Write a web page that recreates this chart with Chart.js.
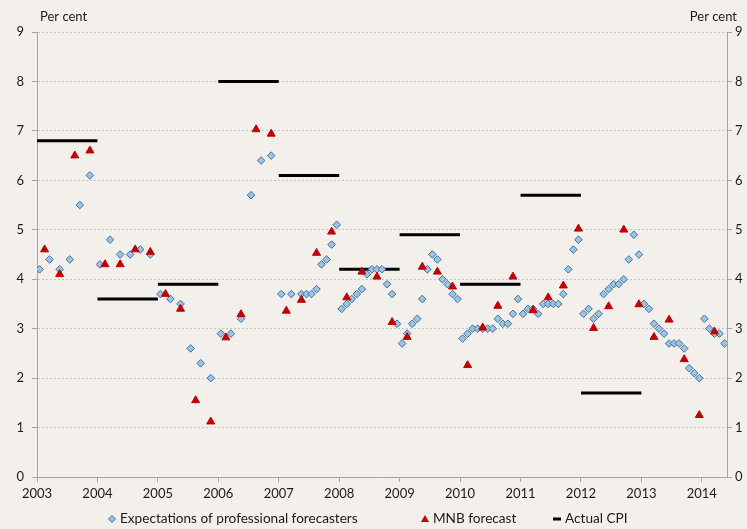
<!DOCTYPE html>
<html>
<head>
<meta charset="utf-8">
<script src="https://cdn.jsdelivr.net/npm/chart.js@4/dist/chart.umd.min.js"></script>
<style>
  html, body { margin: 0; padding: 0; background: #f3f0ec; }
  #wrap { width: 747px; height: 529px; position: relative; }
</style>
</head>
<body>
<div id="wrap"><canvas id="cpi-chart"></canvas></div>
<script>
// Expectations of professional forecasters (monthly survey, month -> value)
const expMonths = [
  '2003-01','2003-03','2003-05','2003-07','2003-09','2003-11',
  '2004-01','2004-03','2004-05','2004-07','2004-09','2004-11',
  '2005-01','2005-03','2005-05','2005-07','2005-09','2005-11',
  '2006-01','2006-03','2006-05','2006-07','2006-09','2006-11',
  '2007-01','2007-03','2007-05','2007-06','2007-07','2007-08','2007-09','2007-10','2007-11','2007-12',
  '2008-01','2008-02','2008-03','2008-04','2008-05','2008-06','2008-07','2008-08','2008-09','2008-10','2008-11','2008-12',
  '2009-01','2009-02','2009-03','2009-04','2009-05','2009-06','2009-07','2009-08','2009-09','2009-10','2009-11','2009-12',
  '2010-01','2010-02','2010-03','2010-04','2010-05','2010-06','2010-07','2010-08','2010-09','2010-10','2010-11','2010-12',
  '2011-01','2011-02','2011-03','2011-04','2011-05','2011-06','2011-07','2011-08','2011-09','2011-10','2011-11','2011-12',
  '2012-01','2012-02','2012-03','2012-04','2012-05','2012-06','2012-07','2012-08','2012-09','2012-10','2012-11','2012-12',
  '2013-01','2013-02','2013-03','2013-04','2013-05','2013-06','2013-07','2013-08','2013-09','2013-10','2013-11','2013-12',
  '2014-01','2014-02','2014-03','2014-04','2014-05'
];
const expValues = [
  4.2, 4.4, 4.2, 4.4, 5.5, 6.1,
  4.3, 4.8, 4.5, 4.5, 4.6, 4.5,
  3.7, 3.6, 3.5, 2.6, 2.3, 2.0,
  2.9, 2.9, 3.2, 5.7, 6.4, 6.5,
  3.7, 3.7, 3.7, 3.7, 3.7, 3.8, 4.3, 4.4, 4.7, 5.1,
  3.4, 3.5, 3.6, 3.7, 3.8, 4.1, 4.2, 4.2, 4.2, 3.9, 3.7, 3.1,
  2.7, 2.9, 3.1, 3.2, 3.6, 4.2, 4.5, 4.4, 4.0, 3.9, 3.7, 3.6,
  2.8, 2.9, 3.0, 3.0, 3.0, 3.0, 3.0, 3.2, 3.1, 3.1, 3.3, 3.6,
  3.3, 3.4, 3.4, 3.3, 3.5, 3.5, 3.5, 3.5, 3.7, 4.2, 4.6, 4.8,
  3.3, 3.4, 3.2, 3.3, 3.7, 3.8, 3.9, 3.9, 4.0, 4.4, 4.9, 4.5,
  3.5, 3.4, 3.1, 3.0, 2.9, 2.7, 2.7, 2.7, 2.6, 2.2, 2.1, 2.0,
  3.2, 3.0, 2.9, 2.9, 2.7
];

// MNB forecast (quarterly Inflation Report)
const mnbMonths = [
  '2003-02','2003-05','2003-08','2003-11',
  '2004-02','2004-05','2004-08','2004-11',
  '2005-02','2005-05','2005-08','2005-11',
  '2006-02','2006-05','2006-08','2006-11',
  '2007-02','2007-05','2007-08','2007-11',
  '2008-02','2008-05','2008-08','2008-11',
  '2009-02','2009-05','2009-08','2009-11',
  '2010-02','2010-05','2010-08','2010-11',
  '2011-03','2011-06','2011-09','2011-12',
  '2012-03','2012-06','2012-09','2012-12',
  '2013-03','2013-06','2013-09','2013-12',
  '2014-03'
];
const mnbValues = [
  4.6, 4.1, 6.5, 6.6,
  4.3, 4.3, 4.6, 4.55,
  3.7, 3.4, 1.55, 1.12,
  2.82, 3.29, 7.03, 6.94,
  3.36, 3.58, 4.53, 4.96,
  3.63, 4.15, 4.05, 3.13,
  2.83, 4.25, 4.15, 3.85,
  2.26, 3.02, 3.46, 4.05,
  3.37, 3.63, 3.87, 5.02,
  3.01, 3.45, 5.0, 3.49,
  2.83, 3.18, 2.38, 1.25,
  2.94
];

// Actual CPI, drawn across the year in which the forecasts were made
const cpiYears = [2003, 2004, 2005, 2006, 2007, 2008, 2009, 2010, 2011, 2012];
const cpiValues = [6.8, 3.6, 3.9, 8.0, 6.1, 4.2, 4.9, 3.9, 5.7, 1.7];

const yearLabels = ['2003','2004','2005','2006','2007','2008','2009','2010','2011','2012','2013','2014'];
const yTicks = [0, 1, 2, 3, 4, 5, 6, 7, 8, 9];

const START_YEAR = 2003;
const N_MONTHS = 137;

// month string -> position on the month axis (centre of the month slot)
function monthPos(s) {
  const parts = s.split('-');
  return (parseInt(parts[0]) - START_YEAR) * 12 + (parseInt(parts[1]) - 1) + 0.5;
}

const expData = expMonths.map((m, i) => ({ x: monthPos(m), y: expValues[i] }));
const mnbData = mnbMonths.map((m, i) => ({ x: monthPos(m), y: mnbValues[i] }));
const cpiData = [];
cpiYears.forEach((yr, i) => {
  const x0 = (yr - START_YEAR) * 12;
  cpiData.push({ x: x0, y: cpiValues[i] });
  cpiData.push({ x: x0 + 12, y: cpiValues[i] });
  cpiData.push({ x: x0 + 12, y: null });
});

const FONT = "Lato, 'Open Sans', sans-serif";
const AXIS_GREY = '#a6a6a6';
const TEXT = '#1a1a1a';

// "Per cent" labels above both axes
const unitLabels = {
  id: 'unitLabels',
  afterDraw(chart) {
    const ctx = chart.ctx;
    const area = chart.chartArea;
    ctx.save();
    ctx.font = '13px ' + FONT;
    ctx.fillStyle = TEXT;
    ctx.textBaseline = 'middle';
    ctx.textAlign = 'left';
    ctx.fillText('Per cent', area.left + 3, 17);
    ctx.textAlign = 'right';
    ctx.fillText('Per cent', area.right + 10, 17);
    ctx.restore();
  }
};

// legend at the bottom, spaced like the original
const bottomLegend = {
  id: 'bottomLegend',
  afterDraw(chart) {
    const ctx = chart.ctx;
    const ds = chart.data.datasets;
    const y = 519;
    const items = [
      { idx: 0, cx: 112 },
      { idx: 1, cx: 425 },
      { idx: 2, cx: 557 }
    ];
    ctx.save();
    ctx.font = '13.6px ' + FONT;
    ctx.textBaseline = 'middle';
    ctx.textAlign = 'left';
    items.forEach(it => {
      const d = ds[it.idx];
      ctx.fillStyle = d.backgroundColor;
      ctx.strokeStyle = d.borderColor;
      ctx.lineWidth = 1;
      if (d.pointStyle === 'rectRot') {
        ctx.beginPath();
        ctx.moveTo(it.cx, y - 3.5);
        ctx.lineTo(it.cx + 3.5, y);
        ctx.lineTo(it.cx, y + 3.5);
        ctx.lineTo(it.cx - 3.5, y);
        ctx.closePath();
        ctx.fill();
        ctx.stroke();
      } else if (d.pointStyle === 'triangle') {
        ctx.beginPath();
        ctx.moveTo(it.cx, y - 4);
        ctx.lineTo(it.cx + 4, y + 3);
        ctx.lineTo(it.cx - 4, y + 3);
        ctx.closePath();
        ctx.fill();
      } else {
        ctx.fillStyle = '#000';
        ctx.fillRect(it.cx - 4, y - 1.5, 8, 3);
      }
      ctx.fillStyle = TEXT;
      ctx.fillText(d.label, it.cx + 8, y);
    });
    ctx.restore();
  }
};

new Chart(document.getElementById('cpi-chart'), {
  type: 'scatter',
  data: {
    datasets: [{
      label: 'Expectations of professional forecasters',
      data: expData,
      pointStyle: 'rectRot',
      pointRadius: 3.8,
      pointHoverRadius: 3.8,
      backgroundColor: '#9cc3e5',
      borderColor: '#41719c',
      borderWidth: 1,
      order: 2
    }, {
      label: 'MNB forecast',
      data: mnbData,
      pointStyle: 'triangle',
      pointRadius: 4.6,
      pointHoverRadius: 4.6,
      backgroundColor: '#c00000',
      borderColor: '#c00000',
      borderWidth: 1,
      order: 1
    }, {
      label: 'Actual CPI',
      type: 'line',
      data: cpiData,
      showLine: true,
      spanGaps: false,
      pointRadius: 0,
      pointStyle: 'line',
      borderColor: '#000000',
      backgroundColor: '#000000',
      borderWidth: 3,
      order: 3
    }]
  },
  options: {
    responsive: true,
    maintainAspectRatio: false,
    animation: false,
    layout: { padding: { top: 32, left: 0, right: 0, bottom: 24 } },
    plugins: {
      tooltip: { enabled: false },
      legend: { display: false }
    },
    scales: {
      x: {
        type: 'linear',
        min: 0,
        max: N_MONTHS,
        afterBuildTicks: s => { s.ticks = yearLabels.map((_, i) => ({ value: i * 12 })); },
        afterFit: s => { s.height = 28; },
        ticks: {
          autoSkip: false,
          maxRotation: 0,
          color: TEXT,
          font: { family: FONT, size: 13 },
          padding: 4,
          callback: v => yearLabels[Math.round(v / 12)]
        },
        grid: { drawOnChartArea: false, tickLength: 5, tickColor: AXIS_GREY },
        border: { color: AXIS_GREY, width: 1 }
      },
      y: {
        position: 'left',
        min: 0,
        max: 9,
        afterBuildTicks: s => { s.ticks = yTicks.map(v => ({ value: v })); },
        afterFit: s => { s.width = 37; },
        ticks: {
          color: TEXT,
          font: { family: FONT, size: 13 },
          padding: 8
        },
        grid: { color: '#c4c4c4', lineWidth: 1, tickLength: 5, tickColor: AXIS_GREY },
        border: { color: AXIS_GREY, width: 1, dash: [2, 2] }
      },
      y2: {
        position: 'right',
        min: 0,
        max: 9,
        afterBuildTicks: s => { s.ticks = yTicks.map(v => ({ value: v })); },
        afterFit: s => { s.width = 20; },
        ticks: {
          color: TEXT,
          font: { family: FONT, size: 13 },
          padding: 3
        },
        grid: { drawOnChartArea: false, tickLength: 5, tickColor: AXIS_GREY },
        border: { color: AXIS_GREY, width: 1 }
      }
    }
  },
  plugins: [unitLabels, bottomLegend]
});
</script>
</body>
</html>
